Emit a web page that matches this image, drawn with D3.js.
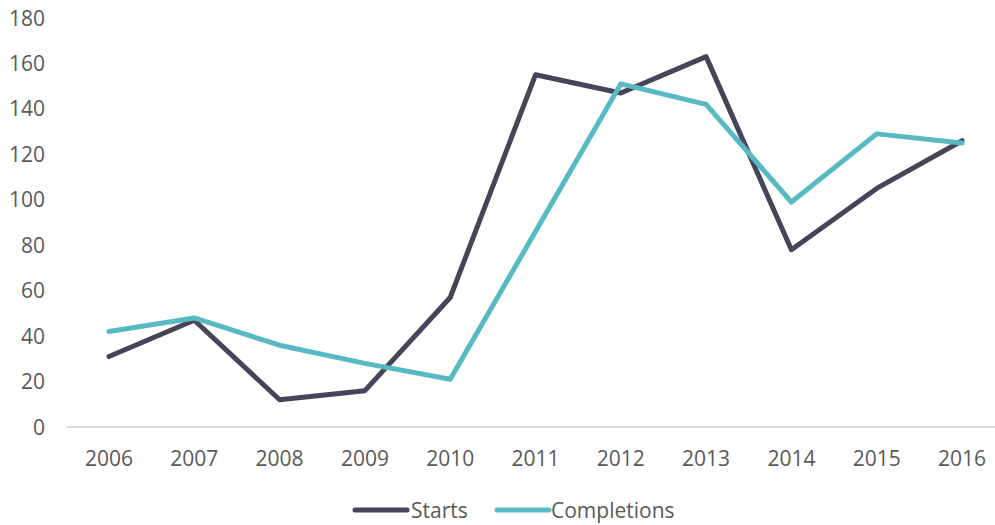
<!DOCTYPE html>
<html><head><meta charset="utf-8">
<script src="https://cdn.jsdelivr.net/npm/d3@7"></script>
<style>body{margin:0;background:#fff;}svg{display:block;font-family:"Open Sans",sans-serif;}</style>
</head><body>
<svg id="c" width="995" height="525"></svg>
<script>
const years = ["2006","2007","2008","2009","2010","2011","2012","2013","2014","2015","2016"];
const starts = [31, 47, 12, 16, 57, 155, 147, 163, 78, 105, 126];
const completions = [42, 48, 36, 28, 21, 86, 151, 142, 99, 129, 125];
const yTicks = [0, 20, 40, 60, 80, 100, 120, 140, 160, 180];
const seriesNames = ["Starts", "Completions"];
const colors = ["#464459", "#57b9c1"];

const svg = d3.select("#c");
const x = d3.scalePoint().domain(years).range([109, 962]);
const y = d3.scaleLinear().domain([0, 180]).range([427, 18]);

// y labels
svg.append("g").selectAll("text").data(yTicks).join("text")
  .attr("x", 45).attr("y", d => y(d)).attr("dy", "0.36em")
  .attr("text-anchor", "end").attr("font-size", 21).attr("fill", "#595959")
  .text(d => d);

// x axis line
svg.append("line").attr("x1", 67).attr("x2", 995).attr("y1", y(0)).attr("y2", y(0))
  .attr("stroke", "#d9d9d9").attr("stroke-width", 2);

svg.append("g").selectAll("text").data(years).join("text")
  .attr("x", d => x(d)).attr("y", 458).attr("dy", "0.36em")
  .attr("text-anchor", "middle").attr("font-size", 21).attr("fill", "#595959")
  .text(d => d);

const line = d3.line().x((d, i) => x(years[i])).y(d => y(d));
[starts, completions].forEach((s, k) => {
  svg.append("path").attr("d", line(s)).attr("fill", "none")
    .attr("stroke", colors[k]).attr("stroke-width", 5)
    .attr("stroke-linejoin", "round").attr("stroke-linecap", "round");
});

// legend
const leg = [{x: 355, tx: 411}, {x: 497, tx: 551}];
seriesNames.forEach((n, k) => {
  svg.append("line").attr("x1", leg[k].x).attr("x2", leg[k].x + 52)
    .attr("y1", 510).attr("y2", 510).attr("stroke", colors[k]).attr("stroke-width", 5)
    .attr("stroke-linecap", "round");
  svg.append("text").attr("x", leg[k].tx).attr("y", 510).attr("dy", "0.36em")
    .attr("font-size", 21).attr("fill", "#595959").text(n);
});
</script>
</body></html>
